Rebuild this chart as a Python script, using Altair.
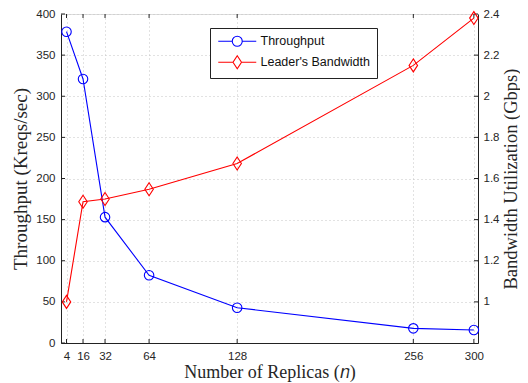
import altair as alt
import pandas as pd

# ---- data ----
replicas = [4, 16, 32, 64, 128, 256, 300]
throughput = [378.5, 321, 153, 82.3, 42.9, 17.8, 15.8]
bandwidth = [1.00, 1.487, 1.50, 1.548, 1.673, 2.15, 2.38]
series_names = ["Throughput", "Leader's Bandwidth"]
series_colors = ["#0000ff", "#ff0000"]
x_ticks = [4, 16, 32, 64, 128, 256, 300]
left_ticks = [0, 50, 100, 150, 200, 250, 300, 350, 400]
right_ticks = [1.0, 1.2, 1.4, 1.6, 1.8, 2.0, 2.2, 2.4]

W, H = 417, 329
AX = "#222222"
TXT = "#262626"
GRID = "#c4c4c4"
SERIF = "Liberation Serif"
SANS = "Liberation Sans"
TL = 4  # inward tick length

# marker / legend symbol paths (unit coords, scaled by sqrt(size)/2)
diamond_path = "M0,-1.3L0.85,0L0,1.3L-0.85,0Z"
leg_circle = "M-1,0L1.8,0M3.8,0L6.6,0M1.8,0A1,1,0,1,1,3.8,0A1,1,0,1,1,1.8,0"
leg_diamond = "M-1,0L1.95,0M3.65,0L6.6,0M2.8,-1.3L3.65,0L2.8,1.3L1.95,0Z"

df = pd.DataFrame({"n": replicas, "thr": throughput, "bw": bandwidth})

x_axis = alt.Axis(values=x_ticks, ticks=False, grid=True, gridDash=[1, 3], gridColor=GRID,
                  labelFont=SANS, labelFontSize=11.5, labelColor=TXT, labelPadding=7,
                  domainColor=AX, title="Number of Replicas (𝑛)", titleFont=SERIF,
                  titleFontSize=18, titleFontWeight="normal", titleColor=TXT,
                  titleBaseline="alphabetic", titleY=34.5)
x_scale = alt.Scale(domain=[0, 303], nice=False, zero=False)
X = alt.X("n:Q", scale=x_scale, axis=x_axis)

left_axis = alt.Axis(values=left_ticks, ticks=False, grid=True, gridDash=[1, 3], gridColor=GRID,
                     labelFont=SANS, labelFontSize=11.5, labelColor=TXT, labelPadding=6,
                     domainColor=AX, title="Throughput (Kreqs/sec)", titleFont=SERIF,
                     titleFontSize=19, titleFontWeight="normal", titleColor=TXT,
                     titleAngle=270, titleBaseline="alphabetic", titleX=-34.5)
left_scale = alt.Scale(domain=[0, 400], nice=False, zero=False)

right_axis = alt.Axis(values=right_ticks, ticks=False, grid=False, orient="right", format="~g",
                      labelFont=SANS, labelFontSize=11.5, labelColor=TXT, labelPadding=5,
                      domainColor=AX, title="Bandwidth Utilization (Gbps)", titleFont=SERIF,
                      titleFontSize=18.5, titleFontWeight="normal", titleColor=TXT,
                      titleAngle=270, titleBaseline="alphabetic", titleX=38)
right_scale = alt.Scale(domain=[0.8, 2.4], nice=False, zero=False)

base = alt.Chart(df)

thr_line = base.mark_line(color=series_colors[0], strokeWidth=1.1).encode(
    x=X, y=alt.Y("thr:Q", scale=left_scale, axis=left_axis))
thr_pts = base.mark_point(shape="circle", size=90, filled=False, color=series_colors[0],
                          strokeWidth=1.1, opacity=1).encode(
    x=X, y=alt.Y("thr:Q", scale=left_scale, axis=left_axis))

ldf = pd.DataFrame({"v": left_ticks})
left_tk = alt.Chart(ldf).mark_rule(color=AX, strokeWidth=1).encode(
    y=alt.Y("v:Q", scale=left_scale, axis=left_axis), x=alt.value(0), x2=alt.value(TL))

xdf = pd.DataFrame({"n": x_ticks})
bot_tk = alt.Chart(xdf).mark_rule(color=AX, strokeWidth=1).encode(
    x=X, y=alt.value(H), y2=alt.value(H - TL))
top_tk = alt.Chart(xdf).mark_rule(color=AX, strokeWidth=1).encode(
    x=X, y=alt.value(0), y2=alt.value(TL))

bw_line = base.mark_line(color=series_colors[1], strokeWidth=1.1).encode(
    x=X, y=alt.Y("bw:Q", scale=right_scale, axis=right_axis))
bw_pts = base.mark_point(shape=diamond_path, size=100, filled=False, color=series_colors[1],
                         strokeWidth=1.1, opacity=1).encode(
    x=X, y=alt.Y("bw:Q", scale=right_scale, axis=right_axis))

rdf = pd.DataFrame({"v": right_ticks})
right_tk = alt.Chart(rdf).mark_rule(color=AX, strokeWidth=1).encode(
    y=alt.Y("v:Q", scale=right_scale, axis=right_axis), x=alt.value(W), x2=alt.value(W - TL))

legend = alt.Legend(title=None, orient="none", legendX=149, legendY=14, padding=7,
                    strokeColor=AX, fillColor="white", symbolSize=100, symbolStrokeWidth=1.1,
                    symbolOpacity=1, labelFont=SANS, labelFontSize=12.5, labelColor="#111",
                    labelOffset=31, rowPadding=4)
leg_df = pd.DataFrame({"series": series_names})
leg_layer = alt.Chart(leg_df).mark_point(filled=False, opacity=0).encode(
    color=alt.Color("series:N", scale=alt.Scale(domain=series_names, range=series_colors), legend=legend),
    shape=alt.Shape("series:N", scale=alt.Scale(domain=series_names, range=[leg_circle, leg_diamond]), legend=legend),
)

left_group = alt.layer(left_tk, bot_tk, top_tk, thr_line, thr_pts)
right_group = alt.layer(right_tk, bw_line, bw_pts)

chart = alt.layer(left_group, right_group, leg_layer).resolve_scale(y="independent").properties(
    width=W, height=H,
    autosize=alt.AutoSizeParams(type="none"),
    padding={"left": 53, "top": 6, "right": 42, "bottom": 40},
).configure_view(stroke=AX, strokeWidth=1).configure(background="white")

chart.save("out.html", embed_options={"renderer": "svg", "actions": False})
